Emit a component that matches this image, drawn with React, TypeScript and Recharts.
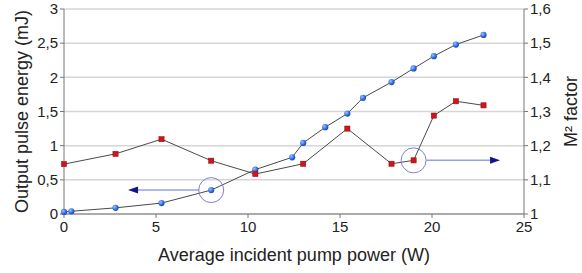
import {
  ComposedChart, Scatter, XAxis, YAxis, CartesianGrid,
  ReferenceDot, ReferenceLine,
} from "recharts";

// pump power (W) vs output energy (mJ)
const energyPower = [0, 0.4, 2.8, 5.3, 8.0, 10.4, 12.4, 13.0, 14.2, 15.4, 16.25, 17.8, 19.0, 20.1, 21.3, 22.8];
const energyValues = [0.03, 0.04, 0.09, 0.16, 0.35, 0.65, 0.83, 1.04, 1.27, 1.47, 1.7, 1.93, 2.13, 2.31, 2.48, 2.62];

// pump power (W) vs M² factor
const m2Power = [0, 2.8, 5.3, 8.0, 10.4, 13.0, 15.4, 17.8, 19.0, 20.1, 21.3, 22.8];
const m2Values = [1.146, 1.176, 1.219, 1.156, 1.117, 1.147, 1.25, 1.147, 1.157, 1.288, 1.33, 1.318];

const xTicks = [0, 5, 10, 15, 20, 25];
const leftTicks = [0, 0.5, 1, 1.5, 2, 2.5, 3];
const rightTicks = [1, 1.1, 1.2, 1.3, 1.4, 1.5, 1.6];

const energyData = energyPower.map((x, i) => ({ x, y: energyValues[i] }));
const m2Data = m2Power.map((x, i) => ({ x, y: m2Values[i] }));

const FONT = '"Liberation Sans", Arial, sans-serif';
const comma = (v: number) => String(v).replace(".", ",");
const tickStyle = { fill: "#222", fontSize: 15, fontFamily: FONT };

interface ShapeProps { cx?: number; cy?: number; }

const BlueDot = ({ cx = 0, cy = 0 }: ShapeProps) => (
  <g>
    <defs>
      <radialGradient id="blueBall" cx="35%" cy="35%" r="70%">
        <stop offset="0%" stopColor="#9cc4ff" />
        <stop offset="60%" stopColor="#2f6fe0" />
        <stop offset="100%" stopColor="#1a45a8" />
      </radialGradient>
    </defs>
    <circle cx={cx} cy={cy} r={3.1} fill="url(#blueBall)" />
  </g>
);

const RedSquare = ({ cx = 0, cy = 0 }: ShapeProps) => (
  <rect x={cx - 2.6} y={cy - 2.6} width={5.2} height={5.2} fill="#d0141c" stroke="#8a0a0f" strokeWidth={0.5} />
);

const ArrowLeft = ({ cx = 0, cy = 0 }: ShapeProps) => (
  <path d={`M${cx},${cy} L${cx + 10},${cy - 3.5} L${cx + 10},${cy + 3.5} Z`} fill="#14148a" />
);

const ArrowRight = ({ cx = 0, cy = 0 }: ShapeProps) => (
  <path d={`M${cx},${cy} L${cx - 10},${cy - 3.5} L${cx - 10},${cy + 3.5} Z`} fill="#14148a" />
);

export default function App() {
  return (
    <div style={{ position: "absolute", left: 0, top: 0, background: "#fff" }}>
      <ComposedChart width={582} height={273} margin={{ top: 9, right: 0, bottom: 0, left: 0 }}>
        <CartesianGrid yAxisId="left" vertical={false} stroke="#d6d6d6" strokeWidth={1.5} />
        <XAxis
          dataKey="x" type="number" domain={[0, 25]} ticks={xTicks} height={59}
          stroke="#777" tickSize={4} tickMargin={3} tick={tickStyle}
          label={{ value: "Average incident pump power (W)", position: "insideBottom", offset: 12, fill: "#222", fontSize: 18, fontFamily: FONT }}
        />
        <YAxis
          yAxisId="left" dataKey="y" type="number" domain={[0, 3]} ticks={leftTicks} width={64}
          stroke="#777" tickSize={4} tickMargin={2} tick={tickStyle} tickFormatter={comma}
          label={{ value: "Output pulse energy (mJ)", angle: -90, position: "insideLeft", offset: 22, fill: "#222", fontSize: 18, fontFamily: FONT, style: { textAnchor: "middle" } }}
        />
        <YAxis
          yAxisId="right" orientation="right" dataKey="y" type="number" domain={[1, 1.6]} ticks={rightTicks} width={58}
          stroke="#777" tickSize={4} tickMargin={2} tick={tickStyle} tickFormatter={comma}
          label={{ value: "M² factor", angle: -90, position: "insideRight", offset: 11, fill: "#222", fontSize: 18, fontFamily: FONT, style: { textAnchor: "middle" } }}
        />
        <Scatter
          yAxisId="left" data={energyData} isAnimationActive={false}
          line={{ stroke: "#4a4a4a", strokeWidth: 1 }} shape={(p: ShapeProps) => <BlueDot {...p} />}
        />
        <Scatter
          yAxisId="right" data={m2Data} isAnimationActive={false}
          line={{ stroke: "#4a4a4a", strokeWidth: 1 }} shape={(p: ShapeProps) => <RedSquare {...p} />}
        />
        <ReferenceLine yAxisId="left" segment={[{ x: 3.9, y: 0.35 }, { x: 7.35, y: 0.35 }]} stroke="#9a9ee6" strokeWidth={1.5} />
        <ReferenceDot yAxisId="left" x={3.48} y={0.35} shape={(p: ShapeProps) => <ArrowLeft {...p} />} />
        <ReferenceDot yAxisId="left" x={8.0} y={0.35} r={12.5} fill="none" stroke="#7c80d8" strokeWidth={1} />
        <ReferenceLine yAxisId="right" segment={[{ x: 19.7, y: 1.157 }, { x: 23.2, y: 1.157 }]} stroke="#9a9ee6" strokeWidth={1.5} />
        <ReferenceDot yAxisId="right" x={23.7} y={1.157} shape={(p: ShapeProps) => <ArrowRight {...p} />} />
        <ReferenceDot yAxisId="right" x={19.0} y={1.157} r={12.5} fill="none" stroke="#7c80d8" strokeWidth={1} />
      </ComposedChart>
    </div>
  );
}
